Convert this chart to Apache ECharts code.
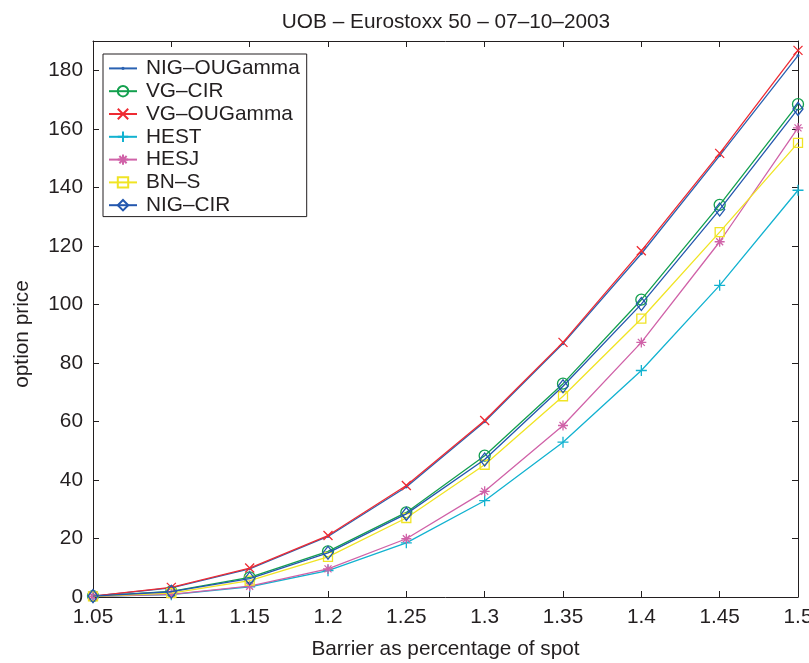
<!DOCTYPE html>
<html>
<head>
<meta charset="utf-8">
<script src="https://cdn.jsdelivr.net/npm/echarts@6/dist/echarts.min.js"></script>
<style>
  html, body { margin: 0; padding: 0; background: #fff; }
  #chart { width: 809px; height: 663px; }
</style>
</head>
<body>
<div id="chart"></div>
<script>
// Barrier level as a fraction of spot
const barriers = [1.05, 1.1, 1.15, 1.2, 1.25, 1.3, 1.35, 1.4, 1.45, 1.5];

// Option prices per model
const nigOUGamma = [0.3, 3.1, 9.6, 20.7, 37.6, 59.9, 86.6, 117.3, 150.8, 185.0];
const vgCIR      = [0.3, 1.9, 6.7, 15.6, 28.9, 48.3, 72.9, 101.6, 134.0, 168.4];
const vgOUGamma  = [0.3, 3.3, 9.9, 21.0, 38.1, 60.3, 87.0, 118.3, 151.6, 186.8];
const hest       = [0.2, 0.8, 3.5, 9.0, 18.5, 32.9, 52.9, 77.4, 106.5, 139.0];
const hesj       = [0.2, 0.9, 3.7, 9.6, 19.9, 36.1, 58.6, 87.0, 121.4, 160.3];
const bns        = [0.2, 1.3, 5.6, 13.7, 27.0, 45.2, 68.6, 95.1, 124.7, 155.2];
const nigCIR     = [0.3, 1.8, 6.3, 15.1, 28.4, 47.0, 72.0, 100.1, 132.4, 166.8];

const seriesNames = ['NIG–OUGamma', 'VG–CIR', 'VG–OUGamma', 'HEST', 'HESJ', 'BN–S', 'NIG–CIR'];
const seriesValues = [nigOUGamma, vgCIR, vgOUGamma, hest, hesj, bns, nigCIR];

const colors = ['#2a62b2', '#13a04e', '#ee2b33', '#12b2d0', '#d062a8', '#f0e424', '#2357ae'];

// Marker shapes: point, open circle, cross, plus, asterisk, open square, open diamond.
// The point is a small octagon inside a 10x10 frame so it stays small in the legend too.
const symbols = [
  'path://M0,0M10,10M5,3.4L6.13,3.87L6.6,5L6.13,6.13L5,6.6L3.87,6.13L3.4,5L3.87,3.87Z',
  'circle',
  'path://M0,0L10,10M10,0L0,10',
  'path://M5,0L5,10M0,5L10,5',
  'path://M5,0L5,10M0,5L10,5M1.5,1.5L8.5,8.5M8.5,1.5L1.5,8.5',
  'rect',
  'path://M5,0L10,7L5,14L0,7Z'
];
const symbolSizes = [10, 11, 9, 11, 10, 9, [10, 13]];

const FONT = '"Liberation Sans", Arial, Helvetica, sans-serif';
const FS = 20.8;
const INK = '#231f20';

const series = seriesNames.map((name, i) => ({
  name: name,
  type: 'line',
  data: barriers.map((b, j) => [b, seriesValues[i][j]]),
  symbol: symbols[i],
  symbolSize: symbolSizes[i],
  showAllSymbol: true,
  lineStyle: { color: colors[i], width: 1.3 },
  itemStyle: i === 0
    ? { color: colors[i], borderColor: colors[i], borderWidth: 0 }
    : { color: 'rgba(255,255,255,0)', borderColor: colors[i], borderWidth: 1.3 },
  emphasis: { disabled: true },
  animation: false,
  z: 2 + i
}));

const chart = echarts.init(document.getElementById('chart'), null, { renderer: 'canvas' });

const tickCommon = { show: true, inside: true, length: 6, lineStyle: { color: INK, width: 1 } };
const lineCommon = { show: true, onZero: false, lineStyle: { color: INK, width: 1 } };

chart.setOption({
  backgroundColor: '#ffffff',
  animation: false,
  color: colors,
  title: {
    text: 'UOB – Eurostoxx 50 – 07–10–2003',
    left: 441, textAlign: 'center', top: 7,
    textStyle: { fontFamily: FONT, fontSize: FS, fontWeight: 'normal', color: INK }
  },
  // fixed plot box; the last tick label is allowed to run past the right edge
  grid: { left: 93, right: 11, top: 41, bottom: 66, containLabel: false, outerBoundsMode: 'none' },
  legend: {
    orient: 'vertical',
    left: 103, top: 54,
    backgroundColor: '#ffffff',
    borderColor: INK, borderWidth: 1,
    padding: [3, 7, 0, 5],
    itemWidth: 28, itemHeight: 13, itemGap: 0,
    textStyle: { fontFamily: FONT, fontSize: FS, color: INK, lineHeight: 22.8, padding: [0, 0, 0, 4] },
    data: seriesNames,
    selectedMode: false
  },
  xAxis: [
    {
      type: 'value', min: 1.05, max: 1.5, interval: 0.05,
      position: 'bottom',
      name: 'Barrier as percentage of spot',
      nameLocation: 'middle', nameGap: 42,
      nameTextStyle: { fontFamily: FONT, fontSize: FS, color: INK },
      axisLine: lineCommon, axisTick: tickCommon,
      axisLabel: {
        fontFamily: FONT, fontSize: FS, color: INK, margin: 10,
        formatter: v => String(+v.toFixed(2))
      },
      splitLine: { show: false }
    },
    {
      type: 'value', min: 1.05, max: 1.5, interval: 0.05,
      position: 'top',
      axisLine: lineCommon, axisTick: tickCommon,
      axisLabel: { show: false }, splitLine: { show: false }
    }
  ],
  yAxis: [
    {
      type: 'value', min: 0, max: 190, interval: 20,
      position: 'left',
      name: 'option price',
      nameLocation: 'middle', nameGap: 60, nameRotate: 90,
      nameTextStyle: { fontFamily: FONT, fontSize: FS, color: INK, padding: [0, 30, 0, 0] },
      axisLine: lineCommon, axisTick: tickCommon,
      axisLabel: {
        fontFamily: FONT, fontSize: FS, color: INK, margin: 10,
        formatter: v => (v % 20 === 0 && v <= 180) ? String(v) : ''
      },
      splitLine: { show: false }
    },
    {
      type: 'value', min: 0, max: 190, interval: 20,
      position: 'right',
      axisLine: lineCommon, axisTick: tickCommon,
      axisLabel: { show: false }, splitLine: { show: false }
    }
  ],
  series: series
});
</script>
</body>
</html>
